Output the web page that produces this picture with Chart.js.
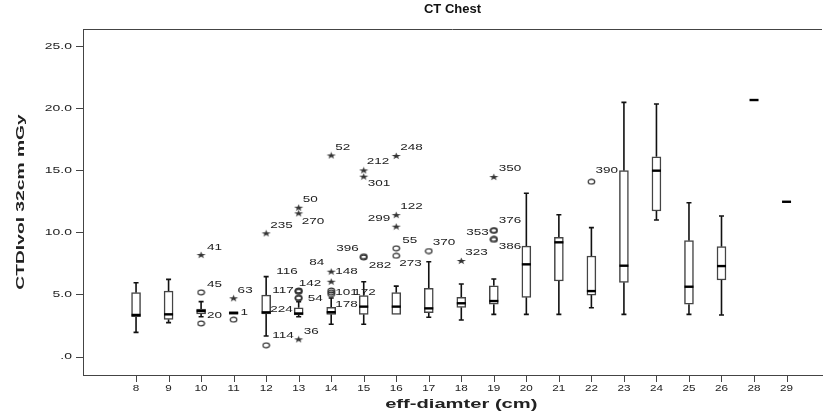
<!DOCTYPE html>
<html>
<head>
<meta charset="utf-8">
<title>CT Chest</title>
<script src="https://cdn.jsdelivr.net/npm/chart.js@4.4.1/dist/chart.umd.min.js"></script>
<style>
  html, body { margin: 0; padding: 0; background: #fff; }
  #wrap { width: 827px; height: 419px; position: relative; }
</style>
</head>
<body>
<div id="wrap"><canvas id="ct-chest"></canvas></div>
<script>
// effective diameter groups (cm)
const categories = ['8', '9', '10', '11', '12', '13', '14', '15', '16', '17', '18', '19', '20', '21', '22', '23', '24', '25', '26', '28', '29'];

// CTDIvol (mGy) five-number summary per group
const whiskerLow  = [1.98, 2.76, 3.24, 3.43, 1.69, 3.24, 2.63, 2.63, 3.43, 3.19, 2.97, 3.43, 3.43, 3.43, 3.96, 3.43, 11.01, 3.43, 3.38, 20.66, 12.48];
const boxLow      = [3.24, 3.03, 3.46, 3.43, 3.46, 3.38, 3.43, 3.43, 3.43, 3.56, 3.99, 4.24, 4.80, 6.11, 4.98, 6.00, 11.74, 4.24, 6.19, 20.66, 12.48];
const medians     = [3.38, 3.43, 3.70, 3.55, 3.59, 3.50, 3.60, 4.05, 4.05, 3.91, 4.32, 4.50, 7.45, 9.22, 5.30, 7.34, 14.98, 5.65, 7.31, 20.66, 12.48];
const boxHigh     = [5.17, 5.30, 3.86, 3.64, 4.98, 3.96, 4.00, 4.93, 5.17, 5.52, 4.80, 5.73, 8.92, 9.62, 8.12, 14.98, 16.10, 9.35, 8.87, 20.66, 12.48];
const whiskerHigh = [5.97, 6.24, 4.45, 3.64, 6.46, 4.45, 4.74, 6.05, 5.70, 7.66, 5.87, 6.27, 13.16, 11.44, 10.40, 20.47, 20.34, 12.40, 11.33, 20.66, 12.48];

// outliers (o) and extremes (*) with their case numbers
const outlierGroup = ['10', '10', '10', '11', '11', '12', '12', '13', '13', '13', '13', '13', '13', '13', '13', '14', '14', '14', '14', '14', '14', '15', '15', '15', '15', '16', '16', '16', '16', '16', '17', '18', '19', '19', '19', '19', '19', '22'];
const outlierValue = [8.2, 5.2, 2.7, 4.72, 3.0, 9.94, 0.94, 12.0, 11.55, 5.35, 5.25, 5.3, 4.77, 4.72, 1.42, 16.2, 6.86, 6.05, 5.35, 5.2, 5.05, 15.0, 14.5, 8.1, 8.0, 16.16, 11.41, 10.48, 8.74, 8.14, 8.52, 7.72, 14.47, 10.2, 10.15, 9.5, 9.42, 14.09];
const outlierMark  = ['*', 'o', 'o', '*', 'o', '*', 'o', '*', '*', 'o', 'o', 'o', 'o', 'o', '*', '*', '*', '*', 'o', 'o', 'o', '*', '*', 'o', 'o', '*', '*', '*', 'o', 'o', 'o', '*', '*', 'o', 'o', 'o', 'o', 'o'];
const outlierCase  = ['41', '45', '20', '63', '1', '235', '114', '50', '270', '117', '116', '142', '54', '224', '36', '52', '84', '148', '172', '101', '178', '212', '301', '396', '282', '248', '122', '299', '55', '273', '370', '323', '350', '376', '353', '386', '', '390'];

const yTicks = [0, 5, 10, 15, 20, 25];

// where each case number sits next to its marker (px); negative dx = text ends left of marker
const caseOffset = [[6, -7], [6, -8], [6, -8], [4, -8], [7, -7], [4, -8], [6, -10], [4, -8], [3, 8], [-5, 0], [-1, -20], [0, -8], [9, 1], [-6, 11], [5, -8],
  [4, -8], [-7, -9], [4, -10], [22, 2], [4, 0], [4, 10], [3, -9], [4, 7], [-5, -8], [5, 8], [4, -8], [4, -9], [-6, -8], [6, -8], [3, 8], [4, -9], [4, -8],
  [5, -9], [5, -10], [-5, 2], [5, 8], [0, 0], [4, -11]];

const FONT = '"Liberation Sans", Arial, sans-serif';
const INK = '#222';

function circleMarker() {
  const c = document.createElement('canvas');
  c.width = 9; c.height = 7;
  const g = c.getContext('2d');
  g.beginPath();
  g.ellipse(4.5, 3.5, 3.3, 2.4, 0, 0, Math.PI * 2);
  g.lineWidth = 1.2;
  g.strokeStyle = '#333';
  g.stroke();
  return c;
}

function starMarker() {
  const c = document.createElement('canvas');
  c.width = 11; c.height = 8;
  const g = c.getContext('2d');
  g.translate(5.5, 4.2);
  g.scale(1.3, 1);
  g.beginPath();
  for (let k = 0; k < 10; k++) {
    const r = k % 2 ? 1.4 : 3.7;
    const a = -Math.PI / 2 + k * Math.PI / 5;
    g.lineTo(r * Math.cos(a), r * Math.sin(a));
  }
  g.closePath();
  g.fillStyle = '#333';
  g.fill();
  return c;
}

// text drawn wider than its height, like the SPSS export
function wideText(ctx, text, x, y, sx, align) {
  ctx.save();
  ctx.translate(x, y);
  ctx.scale(sx, 1);
  ctx.textAlign = align;
  ctx.fillText(text, 0, 0);
  ctx.restore();
}

const boxParts = {
  id: 'boxParts',
  beforeDatasetsDraw(chart) {
    const { ctx, scales: { x, y } } = chart;
    ctx.save();
    ctx.strokeStyle = '#111';
    ctx.lineWidth = 1.6;
    categories.forEach((c, i) => {
      if (whiskerHigh[i] === whiskerLow[i]) return;
      const px = x.getPixelForValue(i);
      ctx.beginPath();
      if (whiskerHigh[i] > boxHigh[i]) {
        const top = y.getPixelForValue(whiskerHigh[i]);
        ctx.moveTo(px, top);
        ctx.lineTo(px, y.getPixelForValue(boxHigh[i]));
        ctx.moveTo(px - 2.5, top);
        ctx.lineTo(px + 2.5, top);
      }
      if (whiskerLow[i] < boxLow[i]) {
        const bot = y.getPixelForValue(whiskerLow[i]);
        ctx.moveTo(px, y.getPixelForValue(boxLow[i]));
        ctx.lineTo(px, bot);
        ctx.moveTo(px - 2.5, bot);
        ctx.lineTo(px + 2.5, bot);
      }
      ctx.stroke();
    });
    ctx.restore();
  },
  afterDatasetsDraw(chart) {
    const { ctx, scales: { x, y } } = chart;
    ctx.save();
    // medians
    ctx.strokeStyle = '#000';
    ctx.lineWidth = 2.4;
    categories.forEach((c, i) => {
      const px = x.getPixelForValue(i);
      const py = y.getPixelForValue(medians[i]);
      ctx.beginPath();
      ctx.moveTo(px - 4.5, py);
      ctx.lineTo(px + 4.5, py);
      ctx.stroke();
    });
    // case numbers
    ctx.fillStyle = INK;
    ctx.font = '9px ' + FONT;
    ctx.textBaseline = 'middle';
    outlierCase.forEach((label, i) => {
      if (!label) return;
      const px = x.getPixelForValue(categories.indexOf(outlierGroup[i]));
      const py = y.getPixelForValue(outlierValue[i]);
      const [dx, dy] = caseOffset[i];
      wideText(ctx, label, px + dx, py + dy, 1.5, dx < 0 ? 'right' : 'left');
    });
    ctx.restore();
  },
  afterDraw(chart) {
    const { ctx, chartArea, scales: { x, y } } = chart;
    ctx.save();
    // top edge of the frame and the category tick marks
    ctx.strokeStyle = '#444';
    ctx.lineWidth = 1;
    ctx.beginPath();
    ctx.moveTo(chartArea.left, chartArea.top + 0.5);
    ctx.lineTo(chartArea.right, chartArea.top + 0.5);
    categories.forEach((c, i) => {
      const px = Math.round(x.getPixelForValue(i)) + 0.5;
      ctx.moveTo(px, chartArea.bottom);
      ctx.lineTo(px, chartArea.bottom + 7);
    });
    ctx.stroke();

    ctx.fillStyle = INK;
    ctx.textBaseline = 'middle';
    ctx.font = '9px ' + FONT;
    yTicks.forEach(v => {
      const label = v === 0 ? '.0' : v.toFixed(1);
      wideText(ctx, label, 72, y.getPixelForValue(v), 1.55, 'right');
    });
    categories.forEach((c, i) => {
      wideText(ctx, c, x.getPixelForValue(i), chartArea.bottom + 14, 1.3, 'center');
    });

    ctx.font = 'bold 12px ' + FONT;
    wideText(ctx, 'eff-diamter (cm)', x.getPixelForValue(10), 405, 1.68, 'center');

    ctx.font = 'bold 11px ' + FONT;
    ctx.save();
    ctx.translate(21, (chartArea.top + chartArea.bottom) / 2);
    ctx.rotate(-Math.PI / 2);
    ctx.scale(1.75, 1);
    ctx.textAlign = 'center';
    ctx.fillText('CTDIvol 32cm mGy', 0, 0);
    ctx.restore();
    ctx.restore();
  }
};

const circlePts = [];
const starPts = [];
outlierValue.forEach((v, i) => {
  const pt = { x: categories.indexOf(outlierGroup[i]), y: v };
  (outlierMark[i] === '*' ? starPts : circlePts).push(pt);
});

const boxes = categories.map((c, i) => ({ x: i, y: [boxLow[i], boxHigh[i]] }))
  .filter(b => b.y[1] > b.y[0]);

new Chart(document.getElementById('ct-chest'), {
  type: 'bar',
  data: {
    datasets: [
      {
        type: 'scatter',
        data: starPts,
        pointStyle: starMarker(),
        pointRadius: 4
      },
      {
        type: 'scatter',
        data: circlePts,
        pointStyle: circleMarker(),
        pointRadius: 4
      },
      {
        data: boxes,
        backgroundColor: '#fff',
        borderColor: '#444',
        borderWidth: 1.5,
        borderSkipped: false,
        barThickness: 9
      }
    ]
  },
  options: {
    responsive: true,
    maintainAspectRatio: false,
    animation: false,
    layout: { padding: 0 },
    plugins: {
      legend: { display: false },
      tooltip: { enabled: false },
      title: {
        display: true,
        text: 'CT Chest',
        fullSize: false,
        color: '#111',
        font: { family: FONT, size: 13, weight: 'bold' },
        padding: { top: 2, bottom: 11.4 }
      }
    },
    scales: {
      x: {
        type: 'linear',
        offset: false,
        min: -1.631,
        max: 21.09,
        afterBuildTicks: s => { s.ticks = categories.map((c, i) => ({ value: i })); },
        afterFit: s => { s.height = 44; },
        ticks: { display: false },
        grid: { display: false },
        border: { color: '#444', width: 1 }
      },
      y: {
        type: 'linear',
        min: -1.447,
        max: 26.37,
        afterBuildTicks: s => { s.ticks = yTicks.map(v => ({ value: v })); },
        afterFit: s => { s.width = 83; },
        ticks: { display: false },
        grid: { drawOnChartArea: false, tickLength: 7, color: '#444' },
        border: { color: '#444', width: 1 }
      }
    }
  },
  plugins: [boxParts]
});
</script>
</body>
</html>
